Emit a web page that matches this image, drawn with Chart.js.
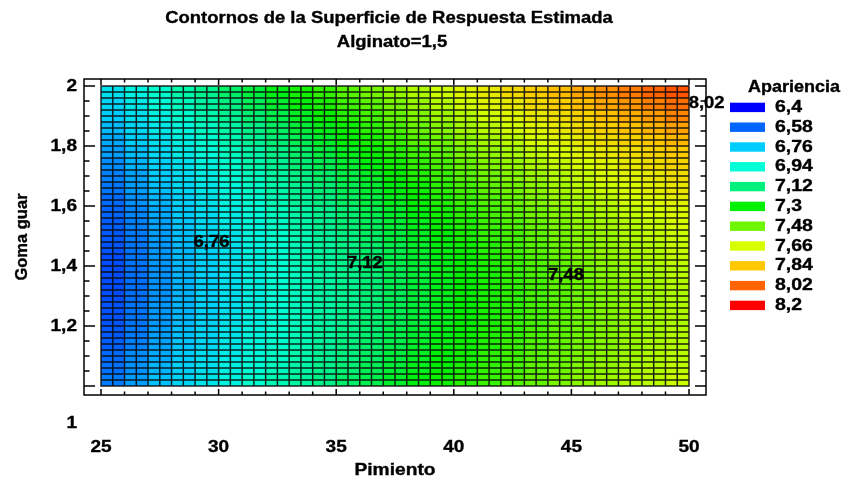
<!DOCTYPE html>
<html><head><meta charset="utf-8">
<script src="https://cdn.jsdelivr.net/npm/chart.js@4.4.1/dist/chart.umd.min.js"></script>
<style>html,body{margin:0;padding:0;background:#fff;overflow:hidden}canvas{display:block}</style>
</head><body>
<canvas id="c" width="846" height="481"></canvas>
<script>
// ---------- texts ----------
const chartTitle = ['Contornos de la Superficie de Respuesta Estimada', 'Alginato=1,5'];
const xAxisTitle = 'Pimiento';
const yAxisTitle = 'Goma guar';
const legendTitle = 'Apariencia';

// ---------- ticks ----------
const xTickValues = [25, 30, 35, 40, 45, 50];
const xTickLabels = ['25', '30', '35', '40', '45', '50'];
const yTickValues = [1, 1.2, 1.4, 1.6, 1.8, 2];
const yTickLabels = ['1', '1,2', '1,4', '1,6', '1,8', '2'];

// ---------- surface grid (block left / bottom edges) ----------
const pimientoBlocks = [25,26,27,28,29,30,31,32,33,34,35,36,37,38,39,40,41,42,43,44,45,46,47,48,49];
const gomaBlocks = [1.00,1.04,1.08,1.12,1.16,1.20,1.24,1.28,1.32,1.36,1.40,1.44,1.48,1.52,1.56,1.60,1.64,1.68,1.72,1.76,1.80,1.84,1.88,1.92,1.96];

// Apariencia read per block (rows: Goma guar from bottom to top, cols: Pimiento left to right)
const apariencia = [
[6.62,6.68,6.74,6.79,6.85,6.90,6.96,7.01,7.05,7.10,7.15,7.19,7.24,7.28,7.32,7.36,7.39,7.43,7.46,7.50,7.53,7.56,7.59,7.61,7.64],
[6.60,6.66,6.72,6.78,6.83,6.89,6.94,6.99,7.04,7.09,7.13,7.18,7.22,7.26,7.30,7.34,7.38,7.41,7.45,7.48,7.51,7.54,7.57,7.60,7.62],
[6.59,6.65,6.70,6.76,6.82,6.87,6.92,6.97,7.02,7.07,7.12,7.16,7.21,7.25,7.29,7.33,7.37,7.40,7.44,7.47,7.50,7.53,7.56,7.59,7.61],
[6.57,6.63,6.69,6.75,6.80,6.86,6.91,6.96,7.01,7.06,7.11,7.15,7.19,7.24,7.28,7.32,7.35,7.39,7.43,7.46,7.49,7.52,7.55,7.58,7.60],
[6.56,6.62,6.68,6.74,6.79,6.85,6.90,6.95,7.00,7.05,7.10,7.14,7.19,7.23,7.27,7.31,7.35,7.38,7.42,7.45,7.48,7.51,7.54,7.57,7.60],
[6.55,6.61,6.67,6.73,6.79,6.84,6.89,6.94,6.99,7.04,7.09,7.14,7.18,7.22,7.26,7.30,7.34,7.38,7.41,7.45,7.48,7.51,7.54,7.57,7.59],
[6.55,6.61,6.67,6.72,6.78,6.83,6.89,6.94,6.99,7.04,7.09,7.13,7.18,7.22,7.26,7.30,7.34,7.37,7.41,7.44,7.48,7.51,7.54,7.57,7.59],
[6.54,6.60,6.66,6.72,6.78,6.83,6.89,6.94,6.99,7.04,7.08,7.13,7.17,7.22,7.26,7.30,7.34,7.37,7.41,7.44,7.48,7.51,7.54,7.57,7.59],
[6.54,6.60,6.66,6.72,6.78,6.83,6.89,6.94,6.99,7.04,7.08,7.13,7.18,7.22,7.26,7.30,7.34,7.38,7.41,7.45,7.48,7.51,7.54,7.57,7.60],
[6.54,6.60,6.66,6.72,6.78,6.83,6.89,6.94,6.99,7.04,7.09,7.13,7.18,7.22,7.27,7.31,7.34,7.38,7.42,7.45,7.49,7.52,7.55,7.58,7.61],
[6.54,6.61,6.67,6.73,6.78,6.84,6.89,6.94,7.00,7.05,7.09,7.14,7.19,7.23,7.27,7.31,7.35,7.39,7.43,7.46,7.50,7.53,7.56,7.59,7.62],
[6.55,6.61,6.67,6.73,6.79,6.84,6.90,6.95,7.00,7.05,7.10,7.15,7.19,7.24,7.28,7.32,7.36,7.40,7.44,7.47,7.51,7.54,7.57,7.60,7.63],
[6.56,6.62,6.68,6.74,6.80,6.85,6.91,6.96,7.01,7.06,7.11,7.16,7.21,7.25,7.29,7.34,7.38,7.41,7.45,7.49,7.52,7.55,7.59,7.62,7.64],
[6.57,6.63,6.69,6.75,6.81,6.87,6.92,6.97,7.03,7.08,7.13,7.17,7.22,7.26,7.31,7.35,7.39,7.43,7.47,7.50,7.54,7.57,7.60,7.63,7.66],
[6.58,6.64,6.70,6.76,6.82,6.88,6.93,6.99,7.04,7.09,7.14,7.19,7.24,7.28,7.33,7.37,7.41,7.45,7.49,7.52,7.56,7.59,7.62,7.66,7.68],
[6.59,6.66,6.72,6.78,6.84,6.90,6.95,7.01,7.06,7.11,7.16,7.21,7.26,7.30,7.35,7.39,7.43,7.47,7.51,7.55,7.58,7.61,7.65,7.68,7.71],
[6.61,6.68,6.74,6.80,6.86,6.91,6.97,7.03,7.08,7.13,7.18,7.23,7.28,7.32,7.37,7.41,7.45,7.49,7.53,7.57,7.61,7.64,7.67,7.71,7.74],
[6.63,6.69,6.76,6.82,6.88,6.94,6.99,7.05,7.10,7.15,7.20,7.25,7.30,7.35,7.39,7.44,7.48,7.52,7.56,7.60,7.63,7.67,7.70,7.73,7.77],
[6.65,6.72,6.78,6.84,6.90,6.96,7.02,7.07,7.13,7.18,7.23,7.28,7.33,7.38,7.42,7.47,7.51,7.55,7.59,7.63,7.66,7.70,7.73,7.77,7.80],
[6.68,6.74,6.80,6.87,6.93,6.99,7.04,7.10,7.15,7.21,7.26,7.31,7.36,7.40,7.45,7.50,7.54,7.58,7.62,7.66,7.70,7.73,7.77,7.80,7.83],
[6.70,6.77,6.83,6.89,6.95,7.01,7.07,7.13,7.18,7.24,7.29,7.34,7.39,7.44,7.48,7.53,7.57,7.61,7.66,7.70,7.73,7.77,7.81,7.84,7.87],
[6.73,6.80,6.86,6.92,6.98,7.04,7.10,7.16,7.22,7.27,7.32,7.37,7.42,7.47,7.52,7.57,7.61,7.65,7.69,7.73,7.77,7.81,7.85,7.88,7.91],
[6.76,6.83,6.89,6.96,7.02,7.08,7.14,7.19,7.25,7.31,7.36,7.41,7.46,7.51,7.56,7.60,7.65,7.69,7.73,7.77,7.81,7.85,7.89,7.92,7.96],
[6.79,6.86,6.93,6.99,7.05,7.11,7.17,7.23,7.29,7.34,7.40,7.45,7.50,7.55,7.60,7.65,7.69,7.73,7.78,7.82,7.86,7.90,7.93,7.97,8.00],
[6.83,6.90,6.96,7.03,7.09,7.15,7.21,7.27,7.33,7.38,7.44,7.49,7.54,7.59,7.64,7.69,7.73,7.78,7.82,7.86,7.90,7.94,7.98,8.02,8.05]
];

// ---------- legend levels ----------
const levels = [6.4, 6.58, 6.76, 6.94, 7.12, 7.3, 7.48, 7.66, 7.84, 8.02, 8.2];
const levelLabels = ['6,4', '6,58', '6,76', '6,94', '7,12', '7,3', '7,48', '7,66', '7,84', '8,02', '8,2'];

// ---------- contour labels ----------
const contourLabels = ['6,76', '7,12', '7,48', '8,02'];
const contourPimiento = [29.70, 36.22, 44.77, 50.75];
const contourGoma = [1.477, 1.407, 1.367, 1.943];

// ---------- styles ----------
const levelColors = [[0,0,255],[0,100,255],[0,205,255],[0,255,215],[0,240,125],[0,240,0],[110,245,0],[215,255,0],[255,200,0],[255,100,0],[255,0,0]];
const FONT = "'Liberation Sans', Arial, sans-serif";
const SX = 1.12;            // horizontal stretch of the original text
const CELL_DX = 0.5, CELL_DY = 0.02;
const X_RANGE = [24.277, 50.723];
const Y_RANGE = [0.97, 2.0233];

function colorFor(v) {
  if (v <= levels[0]) return 'rgb(' + levelColors[0].join(',') + ')';
  for (let k = 0; k < levels.length - 1; k++) {
    if (v <= levels[k + 1]) {
      const t = (v - levels[k]) / (levels[k + 1] - levels[k]);
      const a = levelColors[k], b = levelColors[k + 1];
      return 'rgb(' + a.map((c, i) => Math.round(c + (b[i] - c) * t)).join(',') + ')';
    }
  }
  return 'rgb(' + levelColors[levelColors.length - 1].join(',') + ')';
}

function txt(ctx, s, x, y, size, align, sx) {
  ctx.save();
  ctx.font = 'bold ' + size + 'px ' + FONT;
  ctx.fillStyle = '#000';
  ctx.strokeStyle = '#000';
  ctx.lineWidth = 0.35;
  ctx.textAlign = align;
  ctx.textBaseline = 'middle';
  ctx.translate(x, y);
  ctx.scale(sx, 1);
  ctx.fillText(s, 0, 0);
  ctx.strokeText(s, 0, 0);
  ctx.restore();
}

const surfacePlugin = {
  id: 'surface',
  beforeDatasetsDraw(chart) {
    const ctx = chart.ctx, x = chart.scales.x, y = chart.scales.y;
    ctx.save();
    const bw = pimientoBlocks[1] - pimientoBlocks[0], bh = gomaBlocks[1] - gomaBlocks[0];
    // filled cells
    for (let j = 0; j < gomaBlocks.length; j++) {
      for (let i = 0; i < pimientoBlocks.length; i++) {
        ctx.fillStyle = colorFor(apariencia[j][i]);
        const x0 = x.getPixelForValue(pimientoBlocks[i]);
        const x1 = x.getPixelForValue(pimientoBlocks[i] + bw);
        const y0 = y.getPixelForValue(gomaBlocks[j]);
        const y1 = y.getPixelForValue(gomaBlocks[j] + bh);
        ctx.fillRect(x0, y1, x1 - x0, y0 - y1);
      }
    }
    // cell borders
    const xa = pimientoBlocks[0], xb = pimientoBlocks[pimientoBlocks.length - 1] + bw;
    const ya = gomaBlocks[0], yb = gomaBlocks[gomaBlocks.length - 1] + bh;
    ctx.strokeStyle = 'rgba(10,10,10,0.9)';
    ctx.lineWidth = 1.45;
    ctx.beginPath();
    const nx = Math.round((xb - xa) / CELL_DX), ny = Math.round((yb - ya) / CELL_DY);
    for (let k = 0; k <= nx; k++) {
      const px = x.getPixelForValue(xa + k * CELL_DX);
      ctx.moveTo(px, y.getPixelForValue(ya) + 0.7); ctx.lineTo(px, y.getPixelForValue(yb) - 0.7);
    }
    for (let k = 0; k <= ny; k++) {
      const py = y.getPixelForValue(ya + k * CELL_DY);
      ctx.moveTo(x.getPixelForValue(xa) - 0.7, py); ctx.lineTo(x.getPixelForValue(xb) + 0.7, py);
    }
    ctx.stroke();
    ctx.restore();
  },
  afterDraw(chart) {
    const ctx = chart.ctx, a = chart.chartArea, x = chart.scales.x, y = chart.scales.y;
    ctx.save();
    // frame
    ctx.strokeStyle = '#000';
    ctx.lineWidth = 1.5;
    ctx.strokeRect(a.left, a.top, a.right - a.left, a.bottom - a.top);
    ctx.beginPath();
    // x ticks (minor every 1, major every 5), top and bottom, inward
    for (let v = xTickValues[0]; v <= xTickValues[xTickValues.length - 1] + 1e-9; v += 1) {
      const px = x.getPixelForValue(v);
      const len = xTickValues.includes(v) ? 6 : 3.5;
      ctx.moveTo(px, a.bottom); ctx.lineTo(px, a.bottom - len);
      ctx.moveTo(px, a.top); ctx.lineTo(px, a.top + len);
    }
    // y ticks (minor every 0.05, major every 0.2), left and right, inward
    for (let k = 0; k <= 20; k++) {
      const v = yTickValues[0] + k * 0.05;
      const py = y.getPixelForValue(v);
      const len = (k % 4 === 0) ? 11 : 5.5;
      ctx.moveTo(a.left, py); ctx.lineTo(a.left + len, py);
      ctx.moveTo(a.right, py); ctx.lineTo(a.right - len, py);
    }
    ctx.stroke();

    // tick labels
    xTickValues.forEach((v, i) => txt(ctx, xTickLabels[i], x.getPixelForValue(v), 447.5, 17, 'center', SX));
    yTickValues.forEach((v, i) => {
      let py = y.getPixelForValue(v);
      if (i === 0) py = a.bottom + 28;   // the original puts the lowest label under the frame
      txt(ctx, yTickLabels[i], a.left - 7, py, 17, 'right', SX);
    });

    // axis titles
    txt(ctx, xAxisTitle, (a.left + a.right) / 2, 470, 17, 'center', 1.13);
    ctx.save();
    ctx.translate(22, (a.top + a.bottom) / 2);
    ctx.rotate(-Math.PI / 2);
    txt(ctx, yAxisTitle, 0, 0, 16.5, 'center', 1.0);
    ctx.restore();

    // chart title
    txt(ctx, chartTitle[0], 389, 18, 16.5, 'center', 1.12);
    txt(ctx, chartTitle[1], 392, 42, 16.5, 'center', 1.12);

    // contour labels
    const meta = chart.getDatasetMeta(0);
    meta.data.forEach((pt, i) => txt(ctx, contourLabels[i], pt.x, pt.y, 16.5, 'center', SX));

    // legend
    txt(ctx, legendTitle, a.right + 88, 87, 16.5, 'center', 1.09);
    levels.forEach((lv, i) => {
      const cy = 107.4 + i * 19.8;
      ctx.fillStyle = 'rgb(' + levelColors[i].join(',') + ')';
      ctx.fillRect(a.right + 24, cy - 4.7, 35, 9.4);
      txt(ctx, levelLabels[i], a.right + 69, cy, 16.5, 'left', 1.18);
    });
    ctx.restore();
  }
};

new Chart(document.getElementById('c'), {
  type: 'scatter',
  data: {
    datasets: [{
      label: 'Contornos',
      data: contourPimiento.map((px, i) => ({ x: px, y: contourGoma[i] })),
      pointRadius: 0,
      showLine: false
    }]
  },
  options: {
    responsive: false,
    animation: false,
    events: [],
    devicePixelRatio: 1,
    layout: { padding: { top: 79, right: 140, left: 0, bottom: 0 } },
    plugins: { legend: { display: false }, tooltip: { enabled: false }, title: { display: false } },
    scales: {
      x: {
        type: 'linear', min: X_RANGE[0], max: X_RANGE[1],
        grid: { display: false }, border: { display: false }, ticks: { display: false },
        afterFit(s) { s.height = 86; }
      },
      y: {
        type: 'linear', min: Y_RANGE[0], max: Y_RANGE[1],
        grid: { display: false }, border: { display: false }, ticks: { display: false },
        afterFit(s) { s.width = 84; }
      }
    }
  },
  plugins: [surfacePlugin]
});
</script>
</body></html>
